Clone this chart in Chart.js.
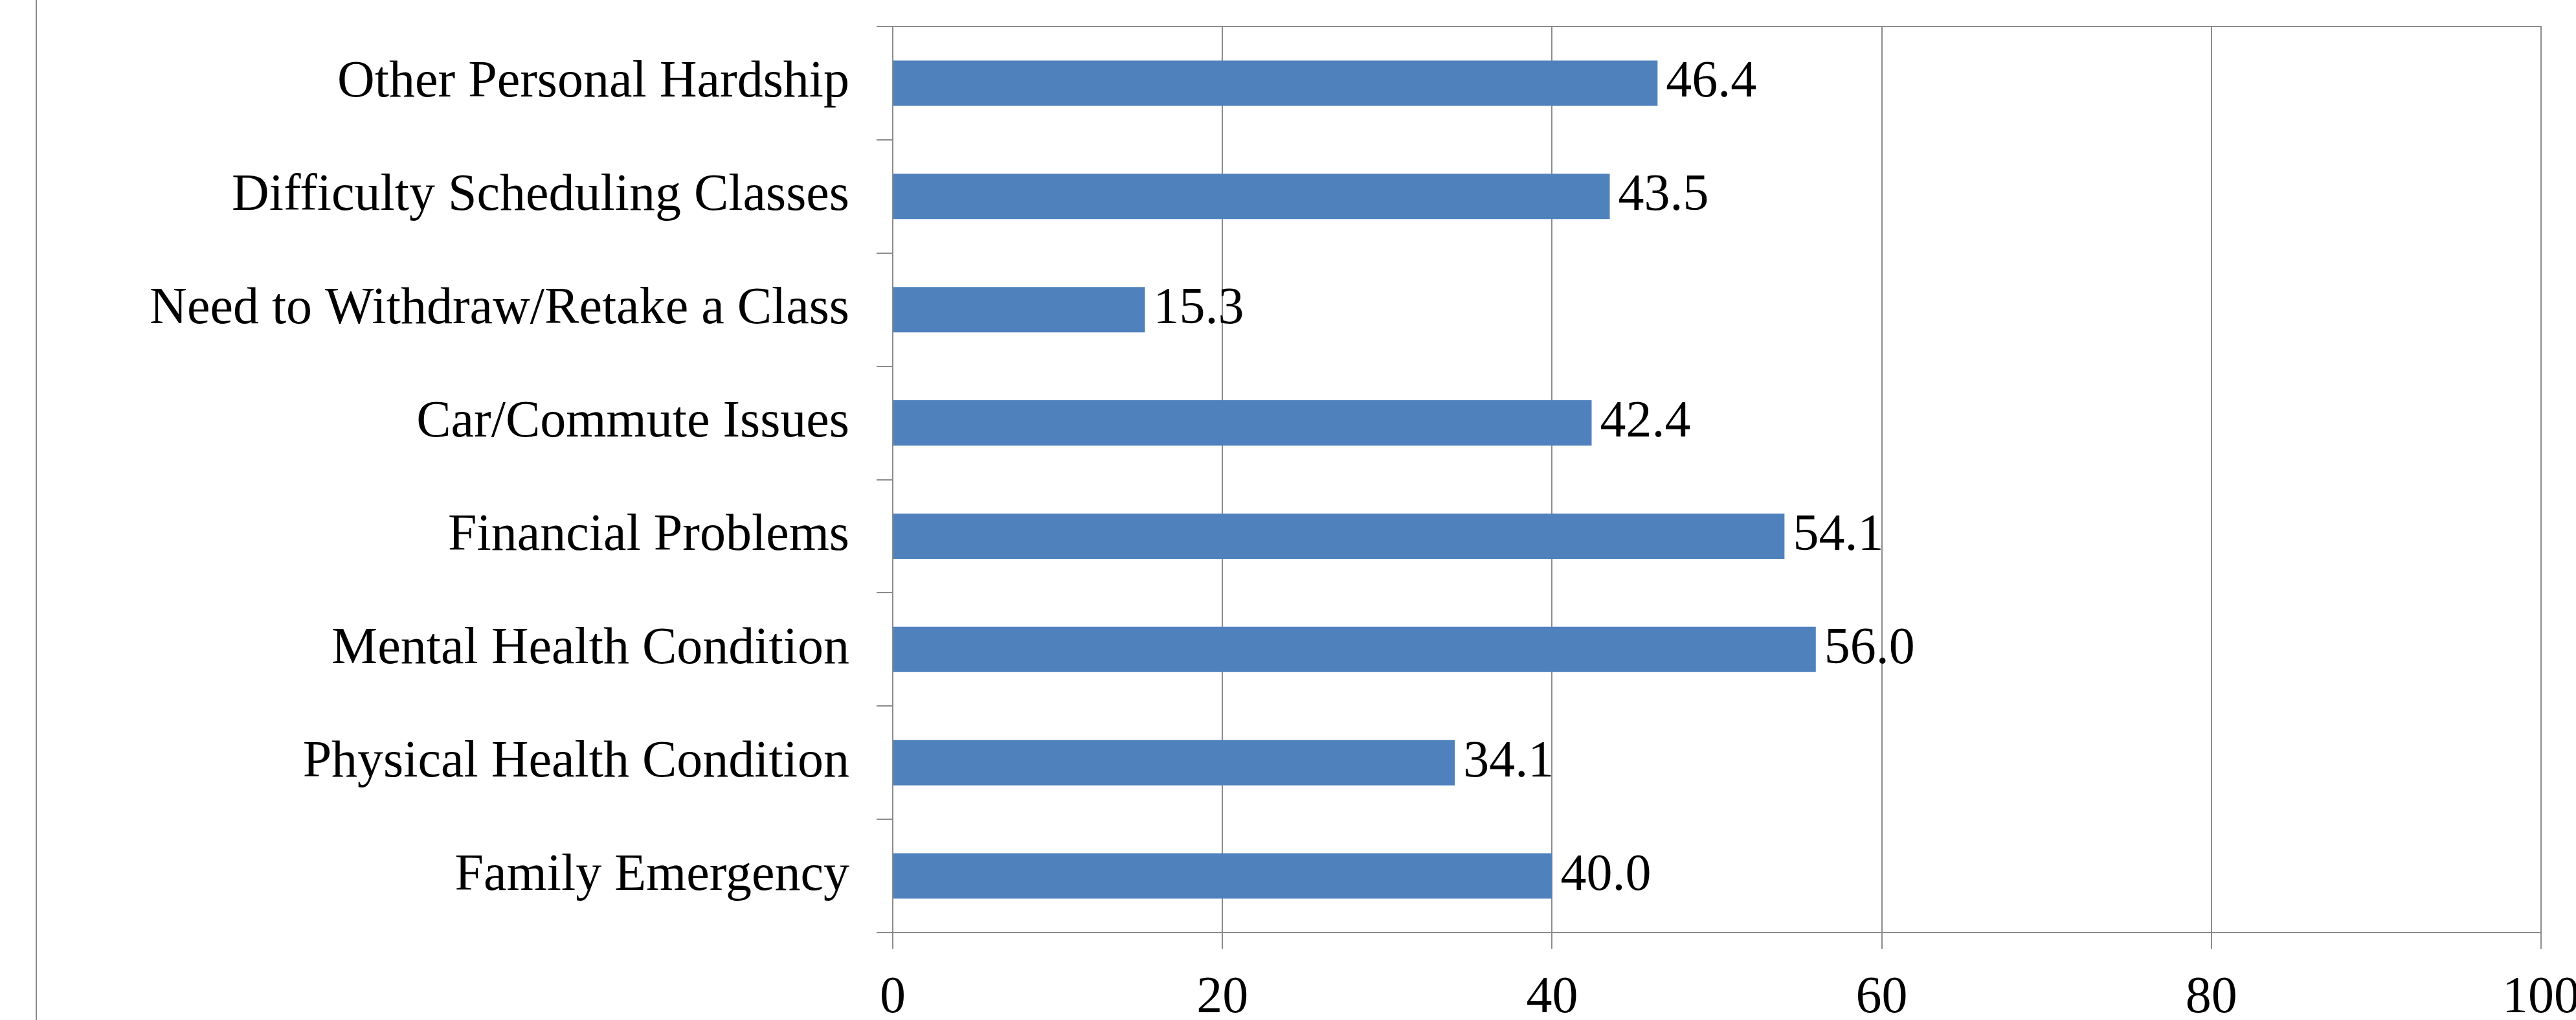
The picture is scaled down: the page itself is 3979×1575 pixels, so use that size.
<!DOCTYPE html>
<html>
<head>
<meta charset="utf-8">
<script src="https://cdn.jsdelivr.net/npm/chart.js@4.4.1/dist/chart.umd.min.js"></script>
<style>
  html, body { margin: 0; padding: 0; overflow: hidden; background: #fff; }
  #wrap { position: absolute; left: 0; top: 0; width: 4000px; height: 1619px; }
  #edge { position: absolute; left: 55px; top: 0; width: 2px; height: 1575px; background: #8c8c8c; }
</style>
</head>
<body>
<div id="edge"></div>
<div id="wrap"><canvas id="reasonsChart"></canvas></div>
<script>
// bottom to top, as in the original sheet
const categories = [
  "Family Emergency",
  "Physical Health Condition",
  "Mental Health Condition",
  "Financial Problems",
  "Car/Commute Issues",
  "Need to Withdraw/Retake a Class",
  "Difficulty Scheduling Classes",
  "Other Personal Hardship"
];
const percents = [40.0, 34.1, 56.0, 54.1, 42.4, 15.3, 43.5, 46.4];
const xTicks = [0, 20, 40, 60, 80, 100];

const gray = '#8c8c8c';
const font = { family: '"Liberation Serif", "Times New Roman", serif', size: 80 };

// value labels right of each bar
const barValues = {
  id: 'barValues',
  afterDatasetsDraw(chart) {
    const c = chart.ctx;
    const meta = chart.getDatasetMeta(0);
    c.save();
    c.font = font.size + 'px ' + font.family;
    c.fillStyle = '#000';
    c.textAlign = 'left';
    c.textBaseline = 'middle';
    meta.data.forEach((bar, i) => {
      c.fillText(percents[i].toFixed(1), bar.x + 13, bar.y);
    });
    c.restore();
  }
};

// top edge of the plot area, with the tick stub
const topEdge = {
  id: 'topEdge',
  afterDraw(chart) {
    const a = chart.chartArea;
    const c = chart.ctx;
    c.save();
    c.strokeStyle = gray;
    c.lineWidth = 2;
    c.beginPath();
    c.moveTo(a.left - 25, a.top);
    c.lineTo(a.right + 1, a.top);
    c.stroke();
    c.restore();
  }
};

const ctx = document.getElementById('reasonsChart').getContext('2d');

const reasonsChart = new Chart(ctx, {
  type: 'bar',
  data: {
    labels: categories,
    datasets: [{
      data: percents,
      backgroundColor: '#4f81bd',
      borderWidth: 0,
      barPercentage: 0.4,
      categoryPercentage: 1.0
    }]
  },
  options: {
    indexAxis: 'y',
    responsive: true,
    maintainAspectRatio: false,
    animation: false,
    layout: { padding: { top: 41, right: 75, left: 0, bottom: 0 } },
    plugins: {
      legend: { display: false },
      tooltip: { enabled: false }
    },
    scales: {
      x: {
        min: 0,
        max: 100,
        afterBuildTicks: (scale) => { scale.ticks = xTicks.map(v => ({ value: v })); },
        afterFit: (scale) => { scale.paddingLeft = 0; scale.paddingRight = 0; },
        ticks: { font: font, color: '#000', padding: 29 },
        grid: { color: gray, lineWidth: 2, tickLength: 25 },
        border: { color: gray, width: 2 }
      },
      y: {
        reverse: true,
        offset: true,
        afterFit: (scale) => {
          scale.width = 1379;
          scale.paddingTop = 0;
          scale.paddingBottom = 0;
        },
        ticks: { font: font, color: '#000', padding: 42 },
        grid: { offset: true, drawOnChartArea: false, color: gray, lineWidth: 2, tickLength: 25 },
        border: { color: gray, width: 2 }
      }
    }
  },
  plugins: [barValues, topEdge]
});
</script>
</body>
</html>
